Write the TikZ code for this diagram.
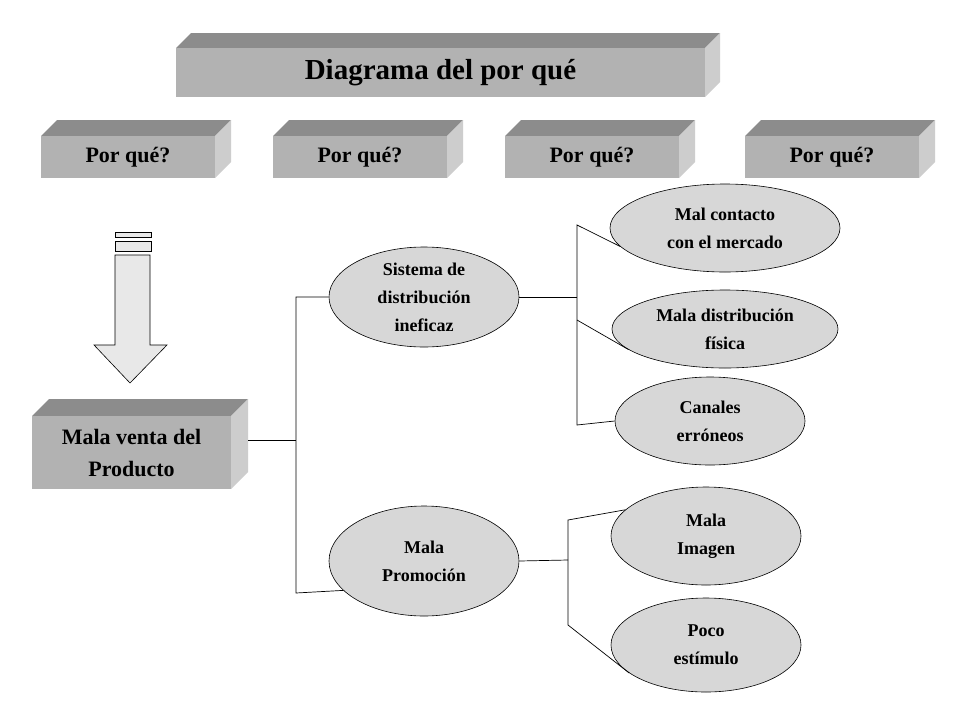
\documentclass[tikz,border=0pt]{standalone}
\usepackage{fontspec}
\setmainfont{Liberation Serif}
\usetikzlibrary{shapes.geometric}
\definecolor{bfront}{HTML}{B2B2B2}
\definecolor{btop}{HTML}{8C8C8C}
\definecolor{bside}{HTML}{CDCDCD}
\definecolor{arrowfill}{HTML}{E8E8E8}
\newcommand{\boxthree}[6]{% x1 y1 x2 y2 depth name
  \fill[btop] (#1,#2) -- (#1+#5,#2-#5) -- (#3+#5,#2-#5) -- (#3,#2) -- cycle;
  \fill[bside] (#3,#2) -- (#3+#5,#2-#5) -- (#3+#5,#4-#5) -- (#3,#4) -- cycle;
  \fill[bfront] (#1,#2) rectangle (#3,#4);
  \coordinate (#6) at ({(#1+#3)/2},{(#2+#4)/2});
  \coordinate (#6side) at (#3+#5,{(#2+#4)/2-#5/2});
}
\begin{document}
\begin{tikzpicture}[x=1pt,y=-1pt,
  ell/.style={ellipse,draw=black,fill=bside!80!white,line width=0.6pt,inner sep=0pt,align=center,font=\bfseries\fontsize{18}{28}\selectfont},
  lbl/.style={font=\bfseries\fontsize{22}{32}\selectfont,align=center},
  conn/.style={line width=0.7pt}]
\useasboundingbox (0,0) rectangle (960,720);
\fill[white] (0,0) rectangle (960,720);
\boxthree{176}{48}{705}{97}{15}{title}
\node[font=\bfseries\fontsize{29}{34}\selectfont] at (title) {Diagrama del por qué};
\boxthree{41}{136}{215}{178}{16}{p1}
\boxthree{273}{136}{447}{178}{16}{p2}
\boxthree{505}{136}{679}{178}{16}{p3}
\boxthree{745}{136}{919}{178}{16}{p4}
\foreach \n in {p1,p2,p3,p4} \node[lbl] at (\n) {Por qué?};
\boxthree{32}{416}{231}{489}{17}{mv}
\node[lbl] at (mv) {Mala venta del\\Producto};
% arrow
\draw[fill=arrowfill,line width=0.6pt] (115,232) rectangle (151,237);
\draw[fill=arrowfill,line width=0.6pt] (115,241) rectangle (151,251);
\draw[fill=arrowfill,line width=0.6pt] (115,255) -- (150,255) -- (150,345) -- (167,345) -- (130,383) -- (94,345) -- (115,345) -- cycle;
% ellipses
\node[ell,minimum width=190pt,minimum height=100pt] (sd) at (424,297) {Sistema de\\distribución\\ineficaz};
\node[ell,minimum width=190pt,minimum height=110pt] (mp) at (424,561) {Mala\\Promoción};
\node[ell,minimum width=230pt,minimum height=88pt] (mc) at (725,228) {Mal contacto\\con el mercado};
\node[ell,minimum width=226pt,minimum height=78pt] (md) at (725,329) {Mala distribución\\física};
\node[ell,minimum width=190pt,minimum height=88pt] (ce) at (710,421) {Canales\\erróneos};
\node[ell,minimum width=190pt,minimum height=98pt] (mi) at (706,536) {Mala\\Imagen};
\node[ell,minimum width=190pt,minimum height=94pt] (pe) at (706,645) {Poco\\estímulo};
% connectors
\coordinate (mvr) at (248,440);
\draw[conn] (mvr) -- (296,440);
\draw[conn] (sd.west) -- (296,297) -- (296,593) -- (mp.200);
\draw[conn] (sd.east) -- (577,297);
\draw[conn] (mc.190) -- (577,225) -- (577,425) -- (ce.west);
\draw[conn] (577,320) -- (md.192);
\draw[conn] (mp.east) -- (568,560);
\draw[conn] (mi.162) -- (568,520) -- (568,625) -- (pe.200);
\end{tikzpicture}
\end{document}
